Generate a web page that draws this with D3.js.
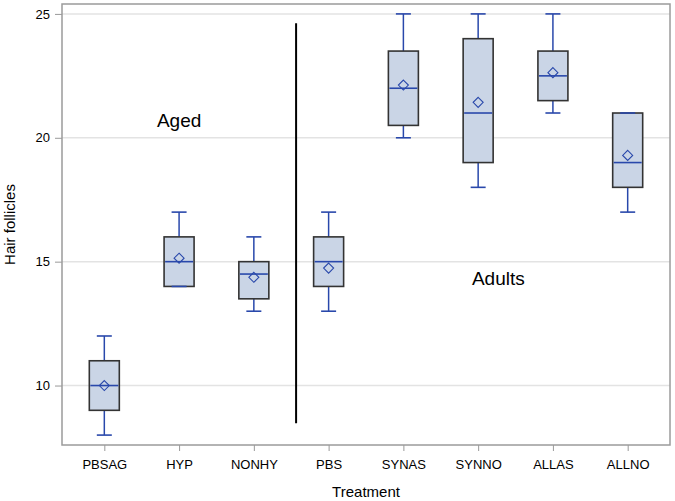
<!DOCTYPE html>
<html>
<head>
<meta charset="utf-8">
<script src="https://cdn.jsdelivr.net/npm/d3@7"></script>
<style>
  body { margin: 0; background: #fff; }
  svg text { font-family: "Liberation Sans", Arial, sans-serif; fill: #000; }
</style>
</head>
<body>
<svg id="chart" width="675" height="501"></svg>
<script>
const treatments = ['PBSAG', 'HYP', 'NONHY', 'PBS', 'SYNAS', 'SYNNO', 'ALLAS', 'ALLNO'];
const mins    = [8,  14,   13,    13,    20,    18,    21,    17];
const q1s     = [9,  14,   13.5,  14,    20.5,  19,    21.5,  18];
const medians = [10, 15,   14.5,  15,    22,    21,    22.5,  19];
const q3s     = [11, 16,   15,    16,    23.5,  24,    23.5,  21];
const maxs    = [12, 17,   16,    17,    25,    25,    25,    21];
const means   = [10, 15.14, 14.37, 14.74, 22.13, 21.43, 22.63, 19.29];
const yTicks  = [10, 15, 20, 25];
const groupLabels = [{text: 'Aged', cat: 'HYP', y: 20.45}, {text: 'Adults', cat: 'SYNAS', y: 14.06, shift: 1.27}];

const data = treatments.map((t, i) => ({
  t, min: mins[i], q1: q1s[i], med: medians[i], q3: q3s[i], max: maxs[i], mean: means[i]
}));

const svg = d3.select('#chart');
const margin = {top: 4, right: 5, bottom: 56, left: 62};
const width = +svg.attr('width');
const height = +svg.attr('height');
const chartRight = width - margin.right;
const chartBottom = height - margin.bottom;

const xScale = d3.scalePoint()
  .domain(treatments)
  .range([margin.left, chartRight])
  .padding(0.566);

const yScale = d3.scaleLinear()
  .domain([7.6, 25.4])
  .range([chartBottom, margin.top]);

const boxW = 30;
const capW = 15;
const blue = '#2948ab';

// grid
svg.append('g')
  .selectAll('line')
  .data(yTicks)
  .join('line')
  .attr('x1', margin.left)
  .attr('x2', chartRight)
  .attr('y1', (d) => yScale(d))
  .attr('y2', (d) => yScale(d))
  .attr('stroke', '#e3e3e3')
  .attr('stroke-width', 1.5);

// axes
const yAxis = d3.axisLeft(yScale).tickValues(yTicks).tickSize(7).tickPadding(5).tickSizeOuter(0);
svg.append('g')
  .attr('transform', `translate(${margin.left},0)`)
  .call(yAxis)
  .call((g) => g.select('.domain').remove())
  .call((g) => g.selectAll('line').attr('stroke', '#999'))
  .call((g) => g.selectAll('text').attr('font-size', '13px').attr('fill', '#000')
    .attr('font-family', '"Liberation Sans", Arial, sans-serif'));

const xAxis = d3.axisBottom(xScale).tickSize(6).tickPadding(9).tickSizeOuter(0);
svg.append('g')
  .attr('transform', `translate(0,${chartBottom})`)
  .call(xAxis)
  .call((g) => g.select('.domain').remove())
  .call((g) => g.selectAll('line').attr('stroke', '#999'))
  .call((g) => g.selectAll('text').attr('font-size', '13px').attr('fill', '#000')
    .attr('font-family', '"Liberation Sans", Arial, sans-serif'));

// frame
svg.append('rect')
  .attr('x', margin.left)
  .attr('y', margin.top)
  .attr('width', chartRight - margin.left)
  .attr('height', chartBottom - margin.top)
  .attr('fill', 'none')
  .attr('stroke', '#9b9b9b')
  .attr('stroke-width', 1.5);

// boxes
const boxes = svg.append('g')
  .selectAll('g')
  .data(data)
  .join('g')
  .attr('transform', (d) => `translate(${xScale(d.t)},0)`);

boxes.append('line')
  .attr('x1', 0).attr('x2', 0)
  .attr('y1', (d) => yScale(d.max))
  .attr('y2', (d) => yScale(d.q3))
  .attr('stroke', blue).attr('stroke-width', 1.5);
boxes.append('line')
  .attr('x1', 0).attr('x2', 0)
  .attr('y1', (d) => yScale(d.q1))
  .attr('y2', (d) => yScale(d.min))
  .attr('stroke', blue).attr('stroke-width', 1.5);

boxes.append('rect')
  .attr('x', -boxW / 2)
  .attr('width', boxW)
  .attr('y', (d) => yScale(d.q3))
  .attr('height', (d) => yScale(d.q1) - yScale(d.q3))
  .attr('fill', '#cad5e6')
  .attr('stroke', '#333')
  .attr('stroke-width', 1.6);

boxes.selectAll('.cap')
  .data((d) => [d.min, d.max])
  .join('line')
  .attr('class', 'cap')
  .attr('x1', -capW / 2).attr('x2', capW / 2)
  .attr('y1', (v) => yScale(v)).attr('y2', (v) => yScale(v))
  .attr('stroke', blue).attr('stroke-width', 1.6);

boxes.append('line')
  .attr('x1', -boxW / 2 + 1).attr('x2', boxW / 2 - 1)
  .attr('y1', (d) => yScale(d.med))
  .attr('y2', (d) => yScale(d.med))
  .attr('stroke', blue).attr('stroke-width', 1.6);

boxes.append('path')
  .attr('transform', (d) => `translate(0,${yScale(d.mean)})`)
  .attr('d', 'M0,-5L5,0L0,5L-5,0Z')
  .attr('fill', 'none')
  .attr('stroke', blue)
  .attr('stroke-width', 1.1);

// divider between aged and adult groups
const divX = xScale('NONHY') + xScale.step() * 0.565;
svg.append('line')
  .attr('x1', divX).attr('x2', divX)
  .attr('y1', yScale(24.62))
  .attr('y2', yScale(8.48))
  .attr('stroke', '#000')
  .attr('stroke-width', 2);

// group labels
svg.append('g')
  .selectAll('text')
  .data(groupLabels)
  .join('text')
  .attr('x', (d) => xScale(d.cat) + (d.shift || 0) * xScale.step())
  .attr('y', (d) => yScale(d.y))
  .attr('text-anchor', 'middle')
  .attr('font-size', '19px')
  .text((d) => d.text);

// axis titles
svg.append('text')
  .attr('x', (margin.left + chartRight) / 2)
  .attr('y', 497)
  .attr('text-anchor', 'middle')
  .attr('font-size', '15px')
  .text('Treatment');

svg.append('text')
  .attr('transform', `translate(15,${(margin.top + chartBottom) / 2}) rotate(-90)`)
  .attr('text-anchor', 'middle')
  .attr('font-size', '15px')
  .text('Hair follicles');
</script>
</body>
</html>
